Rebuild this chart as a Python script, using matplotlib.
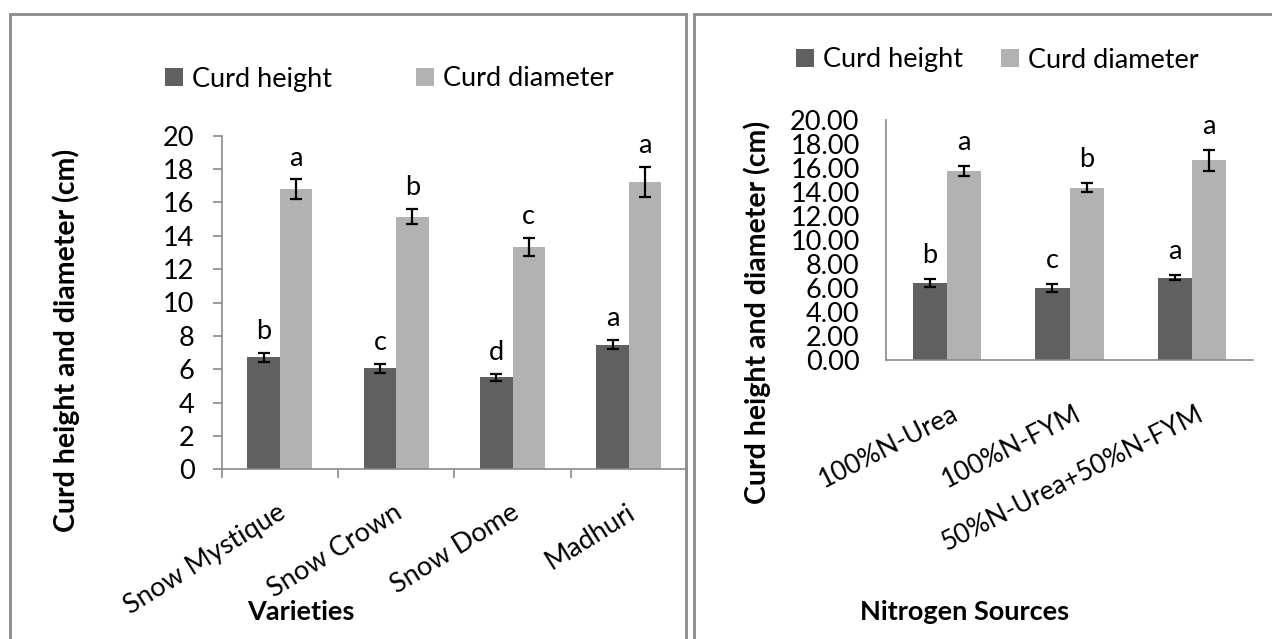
import numpy as np
import matplotlib.pyplot as plt
from matplotlib.patches import Rectangle

plt.rcParams['font.family'] = ['Lato', 'DejaVu Sans']

# varieties panel
varieties = ['Snow Mystique', 'Snow Crown', 'Snow Dome', 'Madhuri']
var_height = [6.71, 6.05, 5.51, 7.47]
var_height_err = [0.29, 0.26, 0.23, 0.26]
var_diam = [16.80, 15.15, 13.33, 17.21]
var_diam_err = [0.58, 0.45, 0.52, 0.90]
var_height_sig = ['b', 'c', 'd', 'a']
var_diam_sig = ['a', 'b', 'c', 'a']

# nitrogen sources panel
sources = ['100%N-Urea', '100%N-FYM', '50%N-Urea+50%N-FYM']
src_height = [6.38, 5.97, 6.84]
src_height_err = [0.35, 0.31, 0.24]
src_diam = [15.76, 14.34, 16.63]
src_diam_err = [0.42, 0.37, 0.89]
src_height_sig = ['b', 'c', 'a']
src_diam_sig = ['a', 'b', 'a']

dark = '#606060'
light = '#b2b2b2'
grid_grey = '#8a8a8a'
W, H = 1272, 639

fig = plt.figure(figsize=(W / 100, H / 100), dpi=100)


def fx(px):
    return px / W


def fy(py):
    return 1 - py / H


# panel frames
fig.patches.append(Rectangle((fx(10), fy(700)), fx(676), fy(14) - fy(700),
                             transform=fig.transFigure, fill=False,
                             ec=grid_grey, lw=2))
fig.patches.append(Rectangle((fx(694), fy(700)), fx(700), fy(14) - fy(700),
                             transform=fig.transFigure, fill=False,
                             ec=grid_grey, lw=2))


def draw_bars(ax, h, he, d, de, hs, ds, off):
    x = np.arange(len(h)) + 0.5
    w = 0.28
    ax.bar(x - w / 2, h, w, color=dark, zorder=2, label='Curd height')
    ax.bar(x + w / 2, d, w, color=light, zorder=2, label='Curd diameter')
    ekw = dict(fmt='none', ecolor='black', elinewidth=1.6, capsize=4.5,
               capthick=1.6, zorder=3)
    ax.errorbar(x - w / 2, h, yerr=he, **ekw)
    ax.errorbar(x + w / 2, d, yerr=de, **ekw)
    for xi, v, e, s in zip(x - w / 2, h, he, hs):
        ax.annotate(s, (xi, v + e), xytext=(0, off), textcoords='offset points',
                    ha='center', va='baseline', fontsize=19.5)
    for xi, v, e, s in zip(x + w / 2, d, de, ds):
        ax.annotate(s, (xi, v + e), xytext=(0, off), textcoords='offset points',
                    ha='center', va='baseline', fontsize=19.5)
    ax.set_xlim(0, len(h))
    ax.set_ylim(0, 20)
    for sp in ['top', 'right']:
        ax.spines[sp].set_visible(False)
    for sp in ['left', 'bottom']:
        ax.spines[sp].set_color(grid_grey)
        ax.spines[sp].set_linewidth(1.2)
    return x


# left panel
ax1 = fig.add_axes([fx(221.7), fy(469.3), fx(687 - 221.7), fy(135.7) - fy(469.3)])
x1 = draw_bars(ax1, var_height, var_height_err, var_diam, var_diam_err,
               var_height_sig, var_diam_sig, 10)
ax1.set_yticks(np.arange(0, 21, 2))
ax1.tick_params(axis='y', direction='out', length=6.5, width=1.2,
                color=grid_grey, labelsize=19.5, pad=13)
ax1.set_xticks(np.arange(0, 5))
ax1.set_xticklabels([])
ax1.tick_params(axis='x', direction='out', length=6.5, width=1.2,
                color=grid_grey)
for xi, lab in zip(x1, varieties):
    ax1.annotate(lab, (xi, 0), xytext=(-2, -22), textcoords='offset points',
                 ha='right', va='top', rotation=32, rotation_mode='anchor',
                 fontsize=19.5, annotation_clip=False)

fig.text(fx(66), fy(340), 'Curd height and diameter (cm)', rotation=90,
         ha='center', va='center', fontsize=20.5, fontweight='bold')
fig.text(fx(301), fy(612), 'Varieties', ha='center', va='center',
         fontsize=19.5, fontweight='bold')
fig.legend(*ax1.get_legend_handles_labels(), loc='center left',
           bbox_to_anchor=(fx(165), fy(79)), ncol=2, frameon=False,
           fontsize=19.5, handlelength=0.65, handleheight=0.65,
           handletextpad=0.35, columnspacing=3.1, borderpad=0,
           borderaxespad=0)

# right panel
ax2 = fig.add_axes([fx(886), fy(359.5), fx(1253 - 886), fy(120) - fy(359.5)])
x2 = draw_bars(ax2, src_height, src_height_err, src_diam, src_diam_err,
               src_height_sig, src_diam_sig, 11.5)
ax2.set_yticks(np.arange(0, 21, 2))
ax2.set_yticklabels([f'{v:.2f}' for v in np.arange(0, 21, 2)])
ax2.tick_params(axis='y', length=0, labelsize=19.5, pad=19)
ax2.set_xticks([])
for xi, lab in zip(x2, sources):
    ax2.annotate(lab, (xi, 0), xytext=(3, -30), textcoords='offset points',
                 ha='right', va='top', rotation=27, rotation_mode='anchor',
                 fontsize=19, annotation_clip=False)

fig.text(fx(757), fy(312), 'Curd height and diameter (cm)', rotation=90,
         ha='center', va='center', fontsize=20.5, fontweight='bold')
fig.text(fx(965), fy(612), 'Nitrogen Sources', ha='center', va='center',
         fontsize=19.5, fontweight='bold')
fig.legend(*ax2.get_legend_handles_labels(), loc='center left',
           bbox_to_anchor=(fx(796), fy(60)), ncol=2, frameon=False,
           fontsize=19.5, handlelength=0.65, handleheight=0.65,
           handletextpad=0.35, columnspacing=1.4, borderpad=0,
           borderaxespad=0)

fig.savefig('out.png', dpi=100)
